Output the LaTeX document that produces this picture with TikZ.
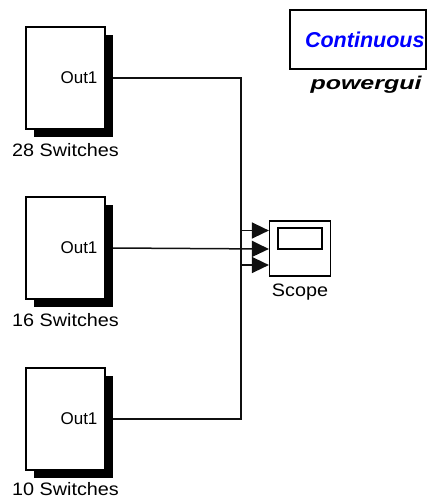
\documentclass[tikz,border=0pt]{standalone}
\usepackage{fontspec}
\setmainfont{Liberation Sans}
\newfontfamily\widesans[FakeStretch=1.1]{Liberation Sans}
\newfontfamily\widergui[FakeStretch=1.35]{Liberation Sans}
\usepackage{xcolor}
\definecolor{guiblue}{HTML}{0000FF}
\definecolor{wirecol}{HTML}{101010}
\usetikzlibrary{arrows.meta,positioning,shadows}
\tikzset{
  subsys/.style={rectangle, draw=black, line width=1.3pt, fill=white,
               minimum width=79pt, minimum height=102pt, inner sep=0pt,
               drop shadow={shadow xshift=7.5pt, shadow yshift=-7.5pt,
               fill=black, opacity=1}},
  portlbl/.style={font=\fontsize{17}{19}\selectfont, anchor=east, inner sep=0pt},
  blklbl/.style={font=\widesans\fontsize{18}{20}\selectfont, inner sep=0pt},
  scopebox/.style={rectangle, draw=black, line width=1.2pt, fill=white,
               minimum width=61pt, minimum height=55pt, inner sep=0pt},
  screen/.style={rectangle, draw=black, line width=1.2pt,
               minimum width=44pt, minimum height=21pt, inner sep=0pt},
  guibox/.style={rectangle, draw=black, line width=1.2pt, fill=white,
               minimum width=136pt, minimum height=59pt, inner sep=0pt,
               text width=133pt, align=right,
               font=\fontsize{21.5}{23}\bfseries\itshape\selectfont, text=guiblue},
  wire/.style={-{Triangle[length=17pt,width=16pt]}, line width=1.5pt, color=wirecol},
}

\begin{document}
\begin{tikzpicture}[x=1pt, y=-1pt]
  \useasboundingbox (0,0) rectangle (435,499);

  % subsystems
  \node[subsys] (s28) at (65.5,78)  {};
  \node[subsys] (s16) at (65.5,248) {};
  \node[subsys] (s10) at (65.5,419) {};
  \node[portlbl] (o28) at ([xshift=-8pt]s28.east) {Out1};
  \node[portlbl] (o16) at ([xshift=-8pt]s16.east) {Out1};
  \node[portlbl] (o10) at ([xshift=-8pt]s10.east) {Out1};
  \node[blklbl, below=14pt of s28] (l28) {28 Switches};
  \node[blklbl, below=14pt of s16] (l16) {16 Switches};
  \node[blklbl, below=12pt of s10] (l10) {10 Switches};

  % scope
  \node[scopebox] (scope) at (300,248.5) {};
  \node[screen] (scr) at (300,238.5) {};
  \node[blklbl, below=7pt of scope] (lscope) {Scope};
  \coordinate (in1) at ([yshift=-16.5pt]scope.west);
  \coordinate (in2) at ([yshift=-0.5pt]scope.west);
  \coordinate (in3) at ([yshift=18pt]scope.west);

  % powergui
  \node[guibox] (gui) at (358,39.5) {Continuous};
  \node[font=\widergui\fontsize{18.5}{20}\bfseries\itshape\selectfont, inner sep=0pt,
        below=6pt of gui, xshift=8pt] (lgui) {powergui};

  % wires
  \draw[wire] ([xshift=7.5pt]s28.east) -| ([xshift=-28pt]in1) -- (in1);
  \draw[wire] ([xshift=7.5pt]s16.east) -- (in2);
  \draw[wire] ([xshift=7.5pt]s10.east) -| ([xshift=-28pt]in3) -- (in3);
\end{tikzpicture}
\end{document}
